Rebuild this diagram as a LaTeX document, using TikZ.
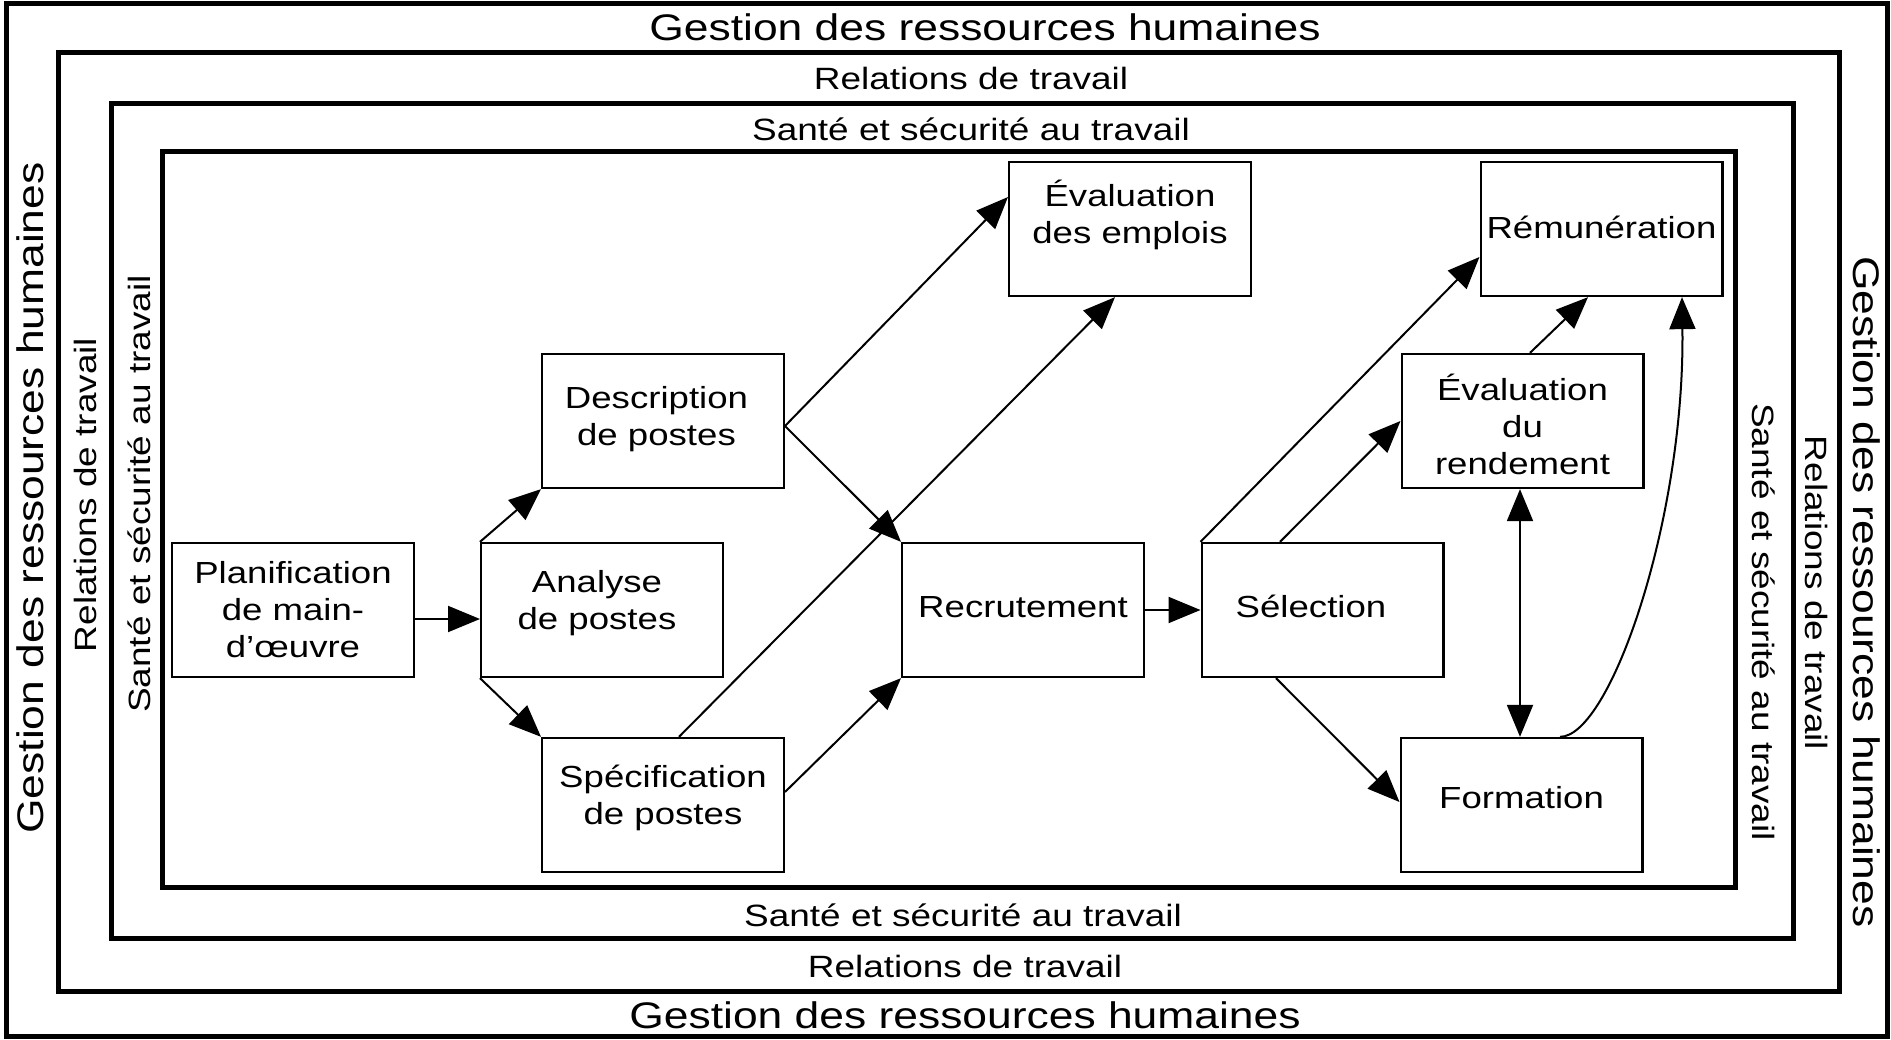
\documentclass[tikz,border=0pt]{standalone}
\usepackage{fontspec}
\setmainfont[FakeStretch=1.2]{Liberation Sans}
\usetikzlibrary{arrows.meta}
\newcommand\bigT{\fontsize{37}{42}\selectfont}
\newcommand\midT{\fontsize{30.8}{35}\selectfont}
\newcommand\boxT{\fontsize{30.5}{37}\selectfont}
\newcommand\tstr[1]{\rule{0pt}{#1pt}}
\newcommand\bstr[1]{\rule[-#1pt]{0pt}{#1pt}}
\newcommand\hsh[1]{\rule{#1pt}{0pt}}
\begin{document}
\begin{tikzpicture}[x=1pt,y=-1pt,
  frame/.style={draw, line width=5pt},
  box/.style={draw, line width=2.3pt, minimum width=241.7pt, minimum height=134pt,
              inner sep=0pt, align=center, font=\boxT},
  arr/.style={line width=2pt, -{Triangle[length=32pt,width=26pt]}},
  darr/.style={line width=2pt, {Triangle[length=32pt,width=26pt]}-{Triangle[length=32pt,width=26pt]}},
  lblbig/.style={font=\bigT, inner sep=0pt, anchor=base},
  lblmid/.style={font=\midT, inner sep=0pt, anchor=base}]
\useasboundingbox (0,0) rectangle (1891,1040);
\fill[white] (0,0) rectangle (1891,1040);

% nested frames
\draw[frame] (6,4) rectangle (1887,1036);
\draw[frame] (58,53) rectangle (1839,991.5);
\draw[frame] (111.5,104) rectangle (1793,938);
\draw[frame] (162,152) rectangle (1735,887);

% frame labels
\node[lblbig] (gt) at (985,40.5) {Gestion des ressources humaines};
\node[lblbig] (gb) at (965,1028.5) {Gestion des ressources humaines};
\node[lblbig, rotate=90] (gl) at (43,498) {Gestion des ressources humaines};
\node[lblbig, rotate=-90] (gr) at (1853,592) {Gestion des ressources humaines};

\node[lblmid] (rt) at (971,89.5) {Relations de travail};
\node[lblmid] (rb) at (965,977.5) {Relations de travail};
\node[lblmid, rotate=90] (rl) at (96.5,495) {Relations de travail};
\node[lblmid, rotate=-90] (rr) at (1805,593) {Relations de travail};

\node[lblmid] (st) at (971,140.5) {Santé et sécurité au travail};
\node[lblmid] (sb) at (963,926) {Santé et sécurité au travail};
\node[lblmid, rotate=90] (sl) at (150,494) {Santé et sécurité au travail};
\node[lblmid, rotate=-90] (sr) at (1752,622) {Santé et sécurité au travail};

% boxes
\node[box] (plan) at (293,610) {\tstr{30}Planification\\de main-\\d’œuvre\bstr{10}};
\node[box] (ana) at (602,610) {\tstr{30}Analyse\hsh{10}\\de postes\hsh{10}\bstr{28}};
\node[box] (desc) at (663,421) {\tstr{30}Description\hsh{13}\\de postes\hsh{13}\bstr{17}};
\node[box] (spec) at (663,805) {\tstr{30}Spécification\\de postes\bstr{29}};
\node[box] (evem) at (1130,229) {\tstr{30}Évaluation\\des emplois\bstr{37}};
\node[box] (recr) at (1023,610) {\tstr{30}Recrutement\bstr{16}};
\node[box] (sel) at (1322.5,610) {\tstr{30}Sélection\hsh{23}\bstr{16}};
\node[box] (evrd) at (1522.5,421) {\tstr{41}Évaluation\\du\\rendement\bstr{7}};
\node[box] (form) at (1521.5,805) {\tstr{30}Formation\bstr{24}};
\node[box] (rem) at (1601.5,229) {\tstr{30}Rémunération\bstr{10}};

% connectors
\draw[arr] ([yshift=-9pt]plan.east) -- ([yshift=-9pt]ana.west);
\draw[arr] (ana.north west) -- (desc.south west);
\draw[arr] (ana.south west) -- (spec.north west);
\draw[arr] ([yshift=-5pt]desc.east) -- ([yshift=32pt]evem.west);
\draw[arr] ([yshift=-5pt]desc.east) -- (recr.north west);
\draw[arr] ([xshift=16pt]spec.north) -- ([xshift=-15pt]evem.south);
\draw[arr] ([yshift=13pt]spec.east) -- (recr.south west);
\draw[arr] (recr.east) -- (sel.west);
\draw[arr] (sel.north west) -- ([yshift=-28pt]rem.west);
\draw[arr] ([xshift=-42.5pt]sel.north) -- (evrd.west);
\draw[arr] ([xshift=-46.5pt]sel.south) -- ([yshift=3pt]form.west);
\draw[arr] ([xshift=7.5pt]evrd.north) -- ([xshift=-13.5pt]rem.south);
\draw[darr] ([xshift=-2.5pt]evrd.south) -- ([xshift=-1.5pt]form.north);
\draw[arr] ([xshift=38.5pt]form.north) .. controls (1610,737) and (1685,520) .. ([xshift=80.5pt]rem.south);
\end{tikzpicture}
\end{document}
